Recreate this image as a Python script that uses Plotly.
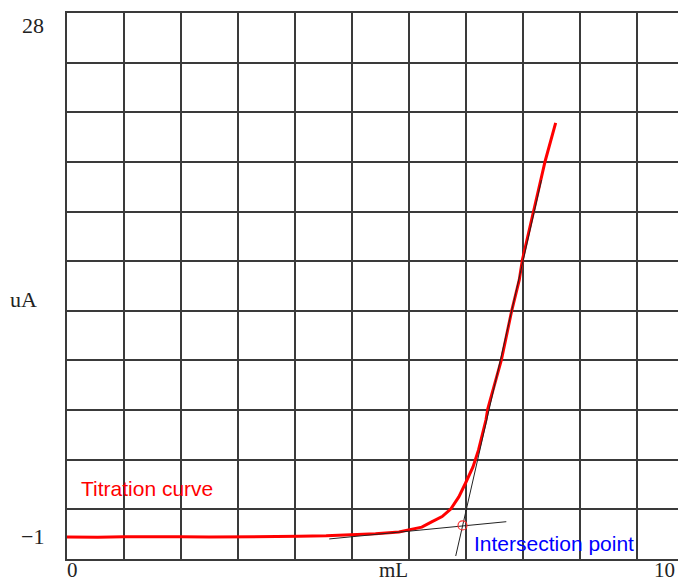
import plotly.graph_objects as go

# Titration curve (mL, uA)
curve_ml = [0.0, 0.5, 0.92, 1.4, 1.84, 2.3, 2.76, 3.2, 3.76, 4.2, 4.62, 5.0, 5.38, 5.54,
            5.75, 5.91, 6.08, 6.22, 6.35, 6.46, 6.58, 6.67, 6.79, 6.82, 6.93, 7.04, 7.21,
            7.33, 7.38, 7.56, 7.75, 7.92]
curve_ua = [-1.06, -1.08, -1.05, -1.07, -1.05, -1.06, -1.05, -1.06, -1.02, -0.99, -0.94, -0.87, -0.77, -0.66,
            -0.5, -0.2, 0.1, 0.53, 1.22, 2.01, 2.92, 3.89, 5.59, 6.22, 7.6, 9.0, 11.84,
            13.55, 14.68, 17.47, 20.31, 22.47]

# tangent lines
base_tan_ml = [4.25, 7.12]
base_tan_ua = [-1.17, -0.19]
steep_tan_ml = [6.30, 7.69]
steep_tan_ua = [-2.14, 19.23]

# intersection point
inter_ml = [6.41]
inter_ua = [-0.40]

x_range = [0, 10]
y_range = [-2.31, 28.72]

fig = go.Figure()
fig.add_trace(go.Scatter(x=curve_ml, y=curve_ua, mode="lines",
                         line=dict(color="#ff0000", width=3), hoverinfo="skip"))
fig.add_trace(go.Scatter(x=base_tan_ml, y=base_tan_ua, mode="lines",
                         line=dict(color="#222222", width=1), hoverinfo="skip"))
fig.add_trace(go.Scatter(x=steep_tan_ml, y=steep_tan_ua, mode="lines",
                         line=dict(color="#222222", width=1), hoverinfo="skip"))
fig.add_trace(go.Scatter(x=inter_ml, y=inter_ua, mode="markers",
                         marker=dict(symbol="circle-open", size=9, color="#ff3333",
                                     line=dict(width=1.2)), hoverinfo="skip"))

# page body has an 8px margin; compensate so the plot lands where the reference has it
OFF = 8
W, H = 686 - OFF, 582 - OFF
PL, PT, PB = 67, 13, 559          # desired plot-area edges in window pixels
PR = 686
L, T = PL - OFF, PT - OFF
B = (OFF + H) - PB
R = (OFF + W) - PR
pw, ph = PR - PL, PB - PT

def px(xp):
    return (xp - PL) / pw

def py(yp):
    return (PB - yp) / ph

serif = dict(family="Liberation Serif, Times New Roman, serif", size=22, color="#222222")
serif_b = dict(family="Liberation Serif, Times New Roman, serif", size=21, color="#222222")
anns = [
    dict(text="28", x=px(33), y=py(25.5), font=serif),
    dict(text="\u22121", x=px(32), y=py(536), font=serif),
    dict(text="uA", x=px(23), y=py(299), font=serif),
    dict(text="0", x=px(73), y=py(570), font=serif_b),
    dict(text="mL", x=px(395), y=py(570), font=serif_b),
    dict(text="10", x=px(666), y=py(570), font=serif_b),
]
annotations = []
for a in anns:
    annotations.append(dict(text=a["text"], x=a["x"], y=a["y"], xref="paper", yref="paper",
                            showarrow=False, xanchor="center", yanchor="middle",
                            borderpad=0, font=a["font"]))
annotations.append(dict(text="Titration curve", x=px(79), y=py(488), xref="paper", yref="paper",
                        showarrow=False, xanchor="left", yanchor="middle",
                        font=dict(family="Liberation Sans, Arial, sans-serif", size=21, color="#ff0000")))
annotations.append(dict(text="Intersection point", x=px(473), y=py(543), xref="paper", yref="paper",
                        showarrow=False, xanchor="left", yanchor="middle",
                        font=dict(family="Liberation Sans, Arial, sans-serif", size=21, color="#0000ff")))

grid_col = "#3a3a3a"
fig.update_layout(
    width=W, height=H,
    margin=dict(l=L, r=R, t=T, b=B, pad=0),
    paper_bgcolor="white", plot_bgcolor="white",
    showlegend=False,
    annotations=annotations,
    xaxis=dict(range=x_range, tick0=0, dtick=(57.2 / pw) * 10, showticklabels=False,
               ticks="", showgrid=True, gridcolor=grid_col, gridwidth=1.5, zeroline=False,
               showline=True, linecolor=grid_col, linewidth=1.5, mirror=True, fixedrange=True),
    yaxis=dict(range=y_range, tick0=y_range[0], dtick=(y_range[1] - y_range[0]) / 11,
               showticklabels=False, ticks="", showgrid=True, gridcolor=grid_col, gridwidth=1.5,
               zeroline=False, showline=True, linecolor=grid_col, linewidth=1.5, mirror=True,
               fixedrange=True),
)

fig.write_html("out.html")
